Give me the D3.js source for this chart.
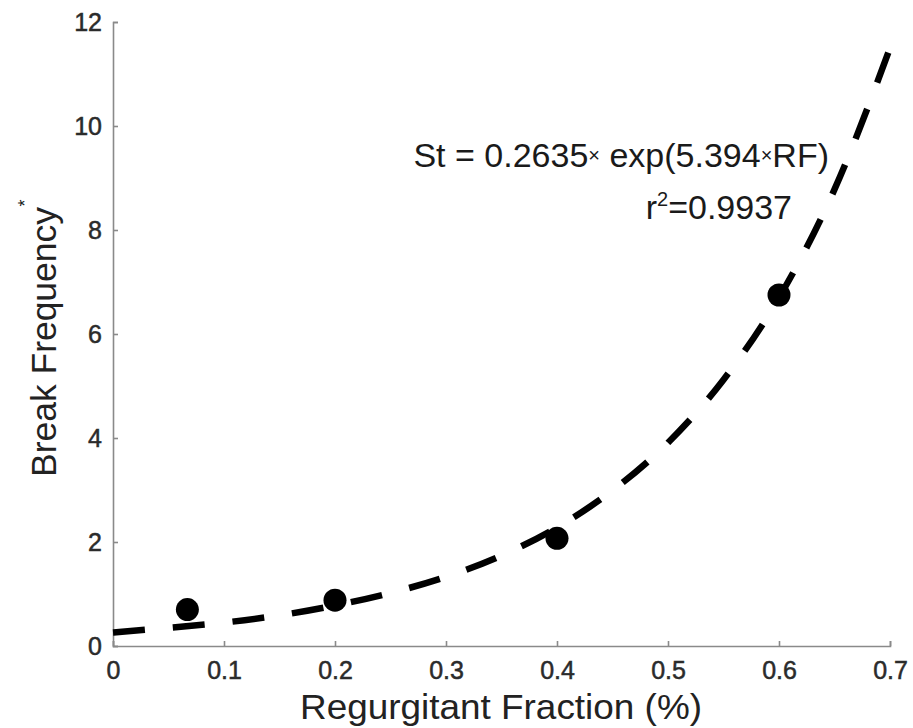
<!DOCTYPE html>
<html lang="en">
<head>
    <meta charset="UTF-8">
    <title>Break Frequency vs Regurgitant Fraction</title>
    <style>
        body { margin: 0; background: #fff; }
        text { font-family: "Liberation Sans", Arial, sans-serif; }
        .axis path, .axis line { stroke: #8a8a8a; stroke-width: 1.6; }
        .axis text { fill: #2b2b2b; font-size: 25px; stroke: #2b2b2b; stroke-width: 0.5; }
    </style>
</head>
<body>
    <svg id="chart"></svg>
    <script src="https://cdnjs.cloudflare.com/ajax/libs/d3/7.9.0/d3.min.js"></script>
    <script>
        // measured points
        const rf = [0.067, 0.2, 0.4, 0.6];
        const freq = [0.70, 0.88, 2.07, 6.75];

        // fitted curve
        const fitX = [0, 0.05, 0.1, 0.15, 0.2, 0.25, 0.3, 0.35, 0.4, 0.45, 0.5, 0.55, 0.6, 0.65, 0.7];
        const fitY = [0.26, 0.35, 0.45, 0.59, 0.78, 1.02, 1.33, 1.74, 2.28, 2.99, 3.91, 5.12, 6.70, 8.78, 11.5];

        const xTicks = [0, 0.1, 0.2, 0.3, 0.4, 0.5, 0.6, 0.7];
        const yTicks = [0, 2, 4, 6, 8, 10, 12];

        const w = 913, h = 728;
        const svg = d3.select("#chart").attr("width", w).attr("height", h);

        const x = d3.scaleLinear().domain([0, 0.7]).range([113, 890]);
        const y = d3.scaleLinear().domain([0, 12]).range([646, 22]);

        svg.append("g")
            .attr("class", "axis")
            .attr("transform", "translate(0," + y(0) + ")")
            .call(d3.axisBottom(x).tickValues(xTicks).tickSize(-5).tickPadding(15)
                .tickFormat(d => d === 0 ? "0" : d3.format(".1f")(d)));

        svg.append("g")
            .attr("class", "axis")
            .attr("transform", "translate(" + x(0) + ",0)")
            .call(d3.axisLeft(y).tickValues(yTicks).tickSize(-5).tickPadding(11));

        svg.selectAll(".axis text").attr("font-family", null);

        // dashed fit line
        const line = d3.line()
            .x((d, i) => x(fitX[i]))
            .y(d => y(d))
            .curve(d3.curveMonotoneX);

        svg.append("path")
            .attr("d", line(fitY))
            .attr("fill", "none")
            .attr("stroke", "#000")
            .attr("stroke-width", 6.5)
            .attr("stroke-dasharray", "32,28");

        svg.selectAll(".pt")
            .data(rf)
            .enter()
            .append("circle")
            .attr("class", "pt")
            .attr("cx", d => x(d))
            .attr("cy", (d, i) => y(freq[i]))
            .attr("r", 11.5)
            .attr("fill", "#000");

        // equation
        const eq = svg.append("text")
            .attr("x", 829).attr("y", 167)
            .attr("text-anchor", "end")
            .attr("font-size", 34)
            .attr("fill", "#1a1a1a");
        eq.append("tspan").text("St = 0.2635");
        eq.append("tspan").attr("font-size", 20).attr("dy", -5).text("×");
        eq.append("tspan").attr("dy", 5).text(" exp(5.394");
        eq.append("tspan").attr("font-size", 20).attr("dy", -5).text("×");
        eq.append("tspan").attr("dy", 5).text("RF)");

        const r2 = svg.append("text")
            .attr("x", 792).attr("y", 219)
            .attr("text-anchor", "end")
            .attr("font-size", 34)
            .attr("fill", "#1a1a1a");
        r2.append("tspan").text("r");
        r2.append("tspan").attr("font-size", 20).attr("dy", -13).text("2");
        r2.append("tspan").attr("dy", 13).text("=0.9937");

        // axis labels
        svg.append("text")
            .attr("x", 501).attr("y", 719)
            .attr("text-anchor", "middle")
            .attr("font-size", 35)
            .attr("textLength", 402)
            .attr("lengthAdjust", "spacingAndGlyphs")
            .attr("fill", "#222")
            .text("Regurgitant Fraction (%)");

        svg.append("text")
            .attr("transform", "translate(56,342) rotate(-90)")
            .attr("text-anchor", "middle")
            .attr("font-size", 35)
            .attr("textLength", 270)
            .attr("lengthAdjust", "spacingAndGlyphs")
            .attr("fill", "#222")
            .text("Break Frequency");

        svg.append("text")
            .attr("transform", "translate(31,203) rotate(-90)")
            .attr("text-anchor", "middle")
            .attr("font-size", 18)
            .attr("fill", "#222")
            .text("*");
    </script>
</body>
</html>
